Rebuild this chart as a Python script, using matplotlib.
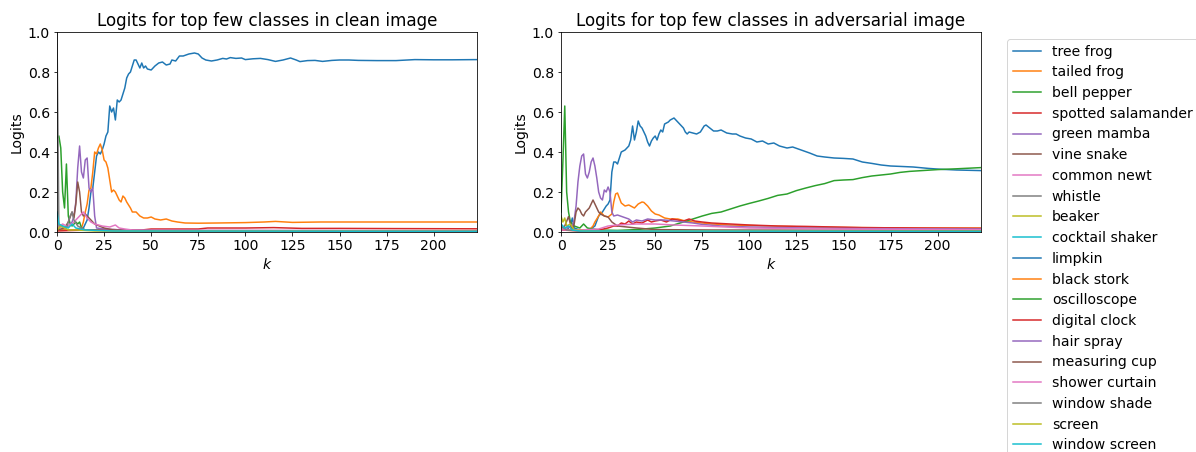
import matplotlib
matplotlib.use("Agg")
import matplotlib.pyplot as plt

# values: (k, logit) points for each class
# clean image
tree_frog = [(0,0.02),(2,0.01),(5,0.01),(10,0.01),(14,0.02),(16,0.06),(17,0.12),(18,0.2),(19,0.22),(20,0.3),(21,0.38),(22,0.40),(23,0.39),(24,0.41),(25,0.44),(26,0.48),(27,0.50),(28,0.63),(29,0.60),(30,0.62),(31,0.56),(32,0.66),(33,0.65),(34,0.66),(35,0.69),(36,0.72),(37,0.77),(38,0.79),(39,0.80),(40,0.83),(41,0.86),(42,0.86),(43,0.84),(44,0.82),(45,0.845),(46,0.82),(47,0.83),(48,0.815),(50,0.81),(52,0.83),(54,0.845),(56,0.85),(58,0.835),(60,0.84),(61,0.86),(63,0.855),(65,0.88),(67,0.88),(70,0.89),(73,0.895),(75,0.89),(77,0.87),(79,0.86),(82,0.855),(85,0.86),(88,0.868),(90,0.865),(92,0.872),(95,0.868),(98,0.87),(100,0.862),(104,0.866),(108,0.868),(112,0.862),(116,0.853),(120,0.86),(124,0.87),(127,0.86),(129,0.852),(133,0.857),(137,0.858),(141,0.853),(146,0.858),(150,0.86),(155,0.86),(160,0.858),(170,0.857),(180,0.857),(190,0.862),(200,0.861),(210,0.861),(223,0.862)]
tailed_frog = [(0,0.01),(5,0.01),(10,0.01),(13,0.02),(14,0.05),(15,0.1),(16,0.14),(17,0.21),(18,0.22),(19,0.3),(20,0.4),(21,0.39),(22,0.42),(23,0.44),(24,0.41),(25,0.36),(26,0.35),(27,0.32),(28,0.26),(29,0.20),(30,0.21),(31,0.2),(32,0.18),(33,0.16),(34,0.15),(35,0.18),(36,0.17),(37,0.15),(39,0.12),(40,0.1),(42,0.1),(44,0.08),(46,0.07),(48,0.07),(50,0.075),(52,0.065),(55,0.06),(58,0.065),(61,0.055),(64,0.05),(68,0.045),(75,0.044),(85,0.045),(100,0.047),(110,0.05),(116,0.053),(125,0.048),(140,0.05),(160,0.05),(180,0.05),(200,0.05),(223,0.05)]
bell_pepper = [(0,0.47),(1,0.48),(2,0.42),(3,0.2),(4,0.12),(5,0.34),(6,0.08),(7,0.04),(8,0.03),(10,0.05),(11,0.04),(12,0.05),(13,0.02),(15,0.01),(20,0.01),(30,0.005),(60,0.004),(223,0.003)]
spotted_salamander = [(0,0.005),(10,0.008),(20,0.01),(30,0.012),(35,0.01),(45,0.01),(50,0.015),(60,0.015),(75,0.015),(80,0.02),(100,0.02),(115,0.022),(130,0.018),(150,0.018),(180,0.017),(223,0.016)]
green_mamba = [(0,0.02),(3,0.03),(5,0.02),(8,0.05),(9,0.08),(10,0.15),(11,0.32),(12,0.43),(13,0.3),(14,0.27),(15,0.36),(16,0.37),(17,0.22),(18,0.2),(19,0.22),(20,0.08),(21,0.02),(25,0.015),(35,0.01),(60,0.008),(223,0.006)]
vine_snake = [(0,0.01),(4,0.02),(6,0.05),(8,0.1),(9,0.07),(10,0.14),(11,0.25),(12,0.2),(13,0.1),(14,0.08),(15,0.09),(16,0.08),(18,0.06),(20,0.04),(25,0.02),(30,0.01),(60,0.005),(223,0.004)]
common_newt = [(0,0.02),(3,0.04),(5,0.03),(8,0.04),(10,0.06),(12,0.08),(14,0.1),(16,0.07),(18,0.05),(20,0.04),(24,0.03),(28,0.025),(31,0.035),(33,0.02),(36,0.015),(40,0.01),(50,0.008),(223,0.006)]
whistle = [(0,1.0),(1,0.03),(5,0.02),(7,0.08),(8,0.1),(9,0.06),(11,0.03),(15,0.01),(30,0.005),(223,0.004)]
beaker = [(0,0.01),(2,0.03),(4,0.02),(6,0.01),(10,0.01),(20,0.005),(223,0.003)]
cocktail_shaker = [(0,0.1),(1,0.04),(3,0.03),(6,0.02),(8,0.04),(10,0.02),(15,0.01),(30,0.005),(223,0.003)]

# adversarial image
limpkin = [(0,0.01),(3,0.01),(5,0.03),(6,0.07),(7,0.02),(10,0.01),(15,0.01),(18,0.03),(20,0.08),(22,0.1),(24,0.13),(25,0.14),(26,0.16),(27,0.3),(28,0.35),(29,0.35),(30,0.34),(31,0.37),(32,0.4),(34,0.41),(36,0.43),(37,0.46),(38,0.53),(39,0.46),(40,0.5),(41,0.555),(42,0.53),(43,0.52),(44,0.5),(45,0.48),(46,0.45),(47,0.43),(48,0.455),(49,0.47),(50,0.48),(51,0.46),(52,0.49),(53,0.51),(54,0.5),(55,0.54),(57,0.55),(58,0.56),(60,0.57),(62,0.55),(64,0.53),(65,0.52),(66,0.5),(67,0.49),(68,0.5),(70,0.495),(72,0.49),(74,0.5),(76,0.53),(77,0.535),(79,0.52),(81,0.505),(83,0.505),(85,0.51),(88,0.495),(91,0.49),(93,0.49),(95,0.48),(98,0.47),(101,0.465),(104,0.45),(107,0.455),(110,0.44),(113,0.445),(116,0.43),(120,0.42),(123,0.425),(126,0.415),(129,0.405),(132,0.395),(136,0.38),(140,0.375),(145,0.37),(150,0.368),(155,0.365),(160,0.35),(165,0.343),(170,0.335),(175,0.33),(180,0.328),(187,0.325),(195,0.318),(201,0.314),(210,0.31),(223,0.307)]
black_stork = [(0,0.01),(5,0.01),(10,0.01),(15,0.01),(17,0.03),(18,0.05),(20,0.08),(21,0.1),(23,0.08),(25,0.075),(27,0.09),(28,0.15),(29,0.19),(30,0.195),(31,0.17),(32,0.145),(34,0.13),(36,0.135),(38,0.125),(39,0.12),(41,0.14),(43,0.15),(44,0.148),(46,0.13),(48,0.105),(50,0.09),(52,0.085),(55,0.07),(58,0.065),(62,0.065),(66,0.055),(70,0.05),(75,0.045),(80,0.04),(90,0.035),(110,0.03),(130,0.025),(160,0.022),(190,0.02),(223,0.02)]
oscilloscope = [(0,0.1),(1,0.35),(2,0.63),(3,0.2),(4,0.1),(5,0.05),(7,0.03),(10,0.02),(12,0.04),(14,0.02),(20,0.01),(30,0.008),(40,0.012),(50,0.02),(58,0.03),(65,0.05),(70,0.065),(75,0.08),(80,0.093),(85,0.1),(90,0.115),(95,0.13),(100,0.143),(105,0.155),(110,0.168),(115,0.183),(120,0.19),(125,0.207),(130,0.22),(135,0.232),(140,0.242),(145,0.257),(150,0.26),(155,0.262),(160,0.272),(165,0.28),(170,0.285),(175,0.29),(180,0.298),(185,0.303),(190,0.306),(200,0.312),(210,0.316),(223,0.322)]
digital_clock = [(0,0.01),(10,0.005),(20,0.01),(25,0.02),(28,0.03),(30,0.03),(32,0.045),(34,0.04),(36,0.055),(38,0.04),(40,0.05),(43,0.045),(46,0.06),(48,0.05),(50,0.055),(53,0.06),(56,0.05),(59,0.065),(62,0.06),(65,0.055),(68,0.065),(71,0.055),(75,0.05),(80,0.045),(90,0.04),(100,0.035),(115,0.03),(130,0.028),(160,0.022),(190,0.02),(223,0.018)]
hair_spray = [(0,0.02),(3,0.02),(6,0.03),(7,0.06),(8,0.13),(9,0.25),(10,0.33),(11,0.38),(12,0.39),(13,0.29),(14,0.27),(15,0.3),(16,0.35),(17,0.37),(18,0.33),(19,0.27),(20,0.2),(21,0.17),(22,0.16),(23,0.21),(24,0.2),(25,0.225),(26,0.2),(27,0.1),(28,0.08),(30,0.085),(33,0.075),(36,0.065),(38,0.05),(40,0.06),(43,0.055),(46,0.065),(50,0.06),(55,0.06),(60,0.055),(65,0.05),(70,0.045),(75,0.038),(85,0.03),(100,0.025),(130,0.02),(160,0.017),(223,0.015)]
measuring_cup = [(0,0.02),(2,0.03),(4,0.077),(5,0.04),(6,0.01),(7,0.04),(8,0.1),(9,0.12),(10,0.11),(11,0.09),(12,0.08),(13,0.1),(15,0.12),(17,0.16),(18,0.14),(19,0.12),(20,0.1),(21,0.09),(23,0.08),(25,0.075),(27,0.05),(30,0.03),(40,0.02),(50,0.012),(80,0.01),(223,0.008)]
shower_curtain = [(0,0.01),(10,0.01),(20,0.015),(25,0.03),(30,0.035),(40,0.04),(50,0.04),(60,0.035),(75,0.03),(100,0.02),(150,0.015),(223,0.012)]
window_shade = [(0,0.03),(3,0.01),(10,0.005),(223,0.005)]
screen = [(0,0.08),(1,0.05),(2,0.07),(3,0.03),(5,0.04),(7,0.01),(15,0.005),(223,0.004)]
window_screen = [(0,0.04),(2,0.02),(4,0.03),(6,0.01),(10,0.005),(223,0.003)]

clean_names = ['tree frog', 'tailed frog', 'bell pepper', 'spotted salamander', 'green mamba',
               'vine snake', 'common newt', 'whistle', 'beaker', 'cocktail shaker']
clean_series = [tree_frog, tailed_frog, bell_pepper, spotted_salamander, green_mamba,
                vine_snake, common_newt, whistle, beaker, cocktail_shaker]
adv_names = ['limpkin', 'black stork', 'oscilloscope', 'digital clock', 'hair spray',
             'measuring cup', 'shower curtain', 'window shade', 'screen', 'window screen']
adv_series = [limpkin, black_stork, oscilloscope, digital_clock, hair_spray,
              measuring_cup, shower_curtain, window_shade, screen, window_screen]

plt.rcParams['font.size'] = 14

# drawn at 72 dpi so that point sizes map 1:1 to pixels
fig = plt.figure(figsize=(1196/72, 452/72), dpi=72)
ax1 = fig.add_axes([57/1196, 220/452, 420/1196, 200/452])
ax2 = fig.add_axes([561/1196, 220/452, 420/1196, 200/452])

handles = []
labels = []
for ax, names, series, title in [(ax1, clean_names, clean_series, 'Logits for top few classes in clean image'),
                                 (ax2, adv_names, adv_series, 'Logits for top few classes in adversarial image')]:
    for name, pts in zip(names, series):
        ks = [p[0] for p in pts]
        vs = [p[1] for p in pts]
        line, = ax.plot(ks, vs, label=name)
        handles.append(line)
        labels.append(name)
    ax.set_xlim(0, 223)
    ax.set_ylim(0, 1)
    ax.set_title(title)
    ax.set_xlabel('$k$')
    ax.set_ylabel('Logits')

fig.legend(handles, labels, loc='upper left', bbox_to_anchor=(1007/1196, 1 - 39/452),
           borderaxespad=0, labelspacing=0.48)

fig.savefig('out.png', dpi=72)
